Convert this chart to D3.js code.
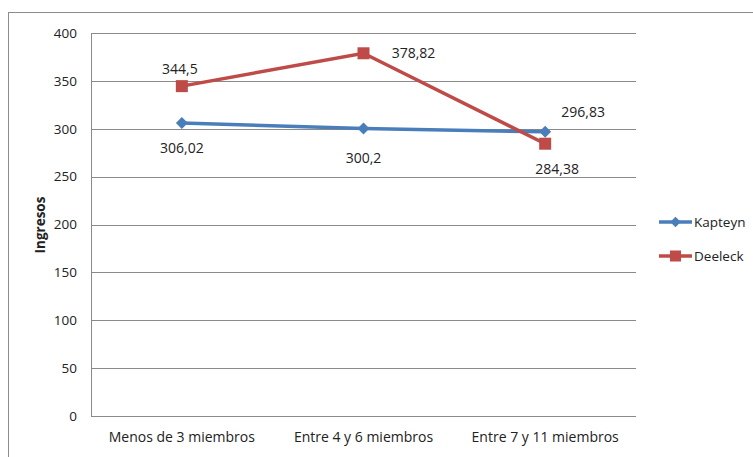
<!DOCTYPE html>
<html><head><meta charset="utf-8">
<script src="https://cdn.jsdelivr.net/npm/d3@7"></script>
<style>
html,body{margin:0;padding:0;background:#fff;}
text{font-family:"Open Sans","Noto Sans",sans-serif;fill:#222;}
</style></head>
<body>
<svg id="chart" width="753" height="457"></svg>
<script>
const categories = ["Menos de 3 miembros", "Entre 4 y 6 miembros", "Entre 7 y 11 miembros"];
const kapteyn = [306.02, 300.2, 296.83];
const deeleck = [344.5, 378.82, 284.38];
const kapteynLabels = ["306,02", "300,2", "296,83"];
const deeleckLabels = ["344,5", "378,82", "284,38"];
const yTicks = [0, 50, 100, 150, 200, 250, 300, 350, 400];

const svg = d3.select("#chart");
const plot = {left: 91, right: 636, top: 33, bottom: 416};

// outer chart border (left & top visible)
svg.append("rect").attr("x", 8.5).attr("y", 12.5).attr("width", 780).attr("height", 480)
  .attr("fill", "none").attr("stroke", "#8c8c8c").attr("stroke-width", 1);

const x = d3.scaleBand().domain(categories).range([plot.left, plot.right]);
const y = d3.scaleLinear().domain([0, 400]).range([plot.bottom, plot.top]);

// gridlines
svg.append("g").selectAll("line").data(yTicks).join("line")
  .attr("x1", plot.left).attr("x2", plot.right)
  .attr("y1", d => Math.round(y(d)) + 0.5).attr("y2", d => Math.round(y(d)) + 0.5)
  .attr("stroke", "#8a8a8a").attr("stroke-width", 1);

// left axis line
svg.append("line").attr("x1", plot.left + 0.5).attr("x2", plot.left + 0.5)
  .attr("y1", plot.top).attr("y2", plot.bottom)
  .attr("stroke", "#8a8a8a");

// y tick labels
const yAxis = d3.axisLeft(y).tickValues(yTicks).tickSize(0).tickPadding(14);
const gy = svg.append("g").attr("transform", `translate(${plot.left},0)`).call(yAxis);
gy.select(".domain").remove();
gy.selectAll("text").attr("font-size", 13.5).attr("fill", "#222")
  .attr("font-family", '"Open Sans","Noto Sans",sans-serif');

// x labels
const xAxis = d3.axisBottom(x).tickSize(0).tickPadding(16);
const gx = svg.append("g").attr("transform", `translate(0,${plot.bottom})`).call(xAxis);
gx.select(".domain").remove();
gx.selectAll("text").attr("font-size", 14).attr("fill", "#222")
  .attr("font-family", '"Open Sans","Noto Sans",sans-serif');

// y axis title
svg.append("text").attr("transform", "translate(45,225) rotate(-90)")
  .attr("text-anchor", "middle").attr("font-size", 13.5).attr("font-weight", "bold")
  .text("Ingresos");

const cx = d => x(d) + x.bandwidth() / 2;
const line = d3.line().x(d => cx(d.c)).y(d => y(d.v));

const blue = "#4a7ebb", red = "#be4b48";
const kData = categories.map((c, i) => ({c, v: kapteyn[i]}));
const dData = categories.map((c, i) => ({c, v: deeleck[i]}));

svg.append("path").datum(kData).attr("d", line).attr("fill", "none")
  .attr("stroke", blue).attr("stroke-width", 3.5);
svg.append("path").datum(dData).attr("d", line).attr("fill", "none")
  .attr("stroke", red).attr("stroke-width", 3.5);

// markers
const diamond = d3.symbol().type(d3.symbolDiamond2).size(90);
svg.append("g").selectAll("path").data(kData).join("path")
  .attr("d", diamond).attr("transform", d => `translate(${cx(d.c)},${y(d.v)})`)
  .attr("fill", blue);
svg.append("g").selectAll("rect").data(dData).join("rect")
  .attr("x", d => cx(d.c) - 6).attr("y", d => y(d.v) - 6)
  .attr("width", 12).attr("height", 12).attr("fill", red);

// data labels
const kOff = [[0, 30], [0, 34], [38, -15]];
const dOff = [[-2, -12], [50, 5], [12, 30]];
svg.append("g").selectAll("text").data(kData).join("text")
  .attr("x", (d, i) => cx(d.c) + kOff[i][0]).attr("y", (d, i) => y(d.v) + kOff[i][1])
  .attr("text-anchor", "middle").attr("font-size", 14)
  .text((d, i) => kapteynLabels[i]);
svg.append("g").selectAll("text").data(dData).join("text")
  .attr("x", (d, i) => cx(d.c) + dOff[i][0]).attr("y", (d, i) => y(d.v) + dOff[i][1])
  .attr("text-anchor", "middle").attr("font-size", 14)
  .text((d, i) => deeleckLabels[i]);

// legend
const legend = [{name: "Kapteyn", color: blue, shape: "diamond"}, {name: "Deeleck", color: red, shape: "square"}];
const lg = svg.append("g").selectAll("g").data(legend).join("g")
  .attr("transform", (d, i) => `translate(659,${222 + i * 34})`);
lg.append("line").attr("x1", 0).attr("x2", 33).attr("y1", 0).attr("y2", 0)
  .attr("stroke", d => d.color).attr("stroke-width", 3.5);
lg.filter(d => d.shape === "diamond").append("path")
  .attr("d", d3.symbol().type(d3.symbolDiamond2).size(70)).attr("transform", "translate(16.5,0)")
  .attr("fill", d => d.color);
lg.filter(d => d.shape === "square").append("rect")
  .attr("x", 11).attr("y", -5.5).attr("width", 11).attr("height", 11).attr("fill", d => d.color);
lg.append("text").attr("x", 35).attr("y", 0).attr("dy", "0.35em")
  .attr("font-size", 13.5).text(d => d.name);
</script>
</body></html>
